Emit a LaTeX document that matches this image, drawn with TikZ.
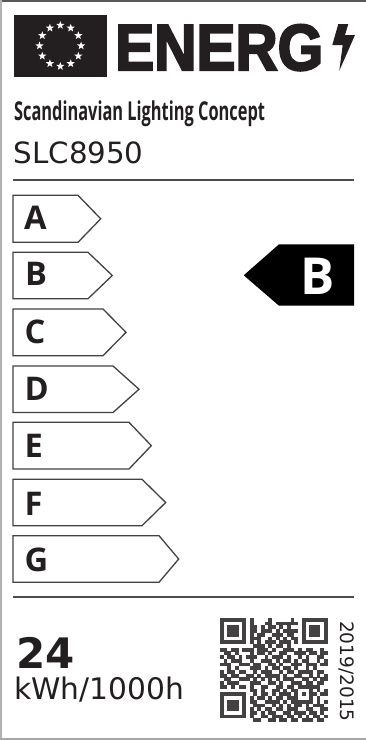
\documentclass[tikz,border=0pt]{standalone}
\usepackage{fontspec}
\usetikzlibrary{shapes.geometric}
\setmainfont{Open Sans}
\newfontfamily\dv{DejaVu Sans}
\newfontfamily\eng[FakeBold=3.5]{Liberation Sans Bold}
\definecolor{ink}{HTML}{231F20}
\newcount\qc
\newcount\qr
\def\qrscan#1{\ifx#1.\else\if#11\relax\fill[ink!85] (220+3.72*\the\qc-0.05,618+3.72*\the\qr-0.05) rectangle ++(3.82,3.82);\fi\advance\qc by 1 \expandafter\qrscan\fi}
\tikzset{
 classbox/.style={draw=ink!85,line width=1.3pt,fill=white,line join=miter},
 rule/.style={draw=ink!80,line width=1.4pt},
 letter/.style={font=\fontsize{32.6}{34}\selectfont\bfseries,text=ink,inner sep=0pt,anchor=base west},
}
\begin{document}
\begin{tikzpicture}[x=1pt,y=-1pt]
\useasboundingbox (0,0) rectangle (366,740);
\fill[white] (0,0) rectangle (366,740);
\fill[black!65] (0,0) rectangle (366,1.6);
\fill[black!30] (0,0) rectangle (1.6,740);
\fill[black!35] (0,738.4) rectangle (366,740);
% flag
\fill[ink] (13.5,15) rectangle (107.2,76.7);
\foreach \a in {0,30,...,330}
  \node[star,star points=5,star point ratio=2.4,fill=white,inner sep=0pt,minimum size=8.5pt] at ({60.3+20.8*sin(\a)},{45.8-20.5*cos(\a)}) {};
% ENERG
\begin{scope}[xscale=.9]
\node[anchor=base west,inner sep=0pt,text=ink,transform shape,font=\eng\fontsize{65}{65}\selectfont] (energ) at (115/.9,70) {ENERG};
\end{scope}
\fill[ink] (338.3,24) -- (348.3,24) -- (345,35) -- (355,35) -- (339.3,70.7) -- (342.7,45) -- (332.3,45) -- cycle;
% name
\begin{scope}[xscale=.63]
\node[anchor=base west,inner sep=0pt,text=ink,transform shape,font=\fontsize{26}{28}\selectfont\bfseries] (brand) at (14/.63,120.5) {Scandinavian Lighting Concept};
\end{scope}
\node[anchor=base west,inner sep=0pt,text=ink,font=\dv\fontsize{29.3}{31}\selectfont] (model) at (13.5,163.4) {SLC8950};
\draw[rule] (13,180) -- (354,180);
\draw[rule] (13,597) -- (354,597);
% classes
\foreach \n/\t/\b/\s/\e/\lx/\d in {A/195.3/242.3/78/100.7/24/10.4,B/252.3/298.7/88/112.3/25/10.4,C/309/355.7/103/126/24.5/11,D/366/412.5/113/139/24.5/11.3,E/422.3/469/129/151.3/24.5/11.7,F/479.3/525.7/142/165.7/24.5/12.5,G/535.7/582.3/159/178.7/24.5/12.5}{
  \draw[classbox] (13,\t) -- (\s,\t) -- (\e,{(\t+\b)/2}) -- (\s,\b) -- (13,\b) -- cycle;
  \node[letter] (cl\n) at (\lx,{(\t+\b)/2+\d}) {\n};
}
% rating
\fill[black] (243.7,275.3) -- (279,244.3) -- (354,244.3) -- (354,305.7) -- (279,305.7) -- cycle;
\node[anchor=base west,inner sep=0pt,text=white,font=\fontsize{51}{53}\selectfont\bfseries] (rate) at (300,294.3) {B};
% consumption
\node[anchor=base west,inner sep=0pt,text=ink,font=\dv\fontsize{42}{44}\selectfont\bfseries] (val) at (16.5,668) {24};
\node[anchor=base west,inner sep=0pt,text=ink,font=\dv\fontsize{29.7}{32}\selectfont] (unit) at (14,699) {kWh/1000h};
\node[rotate=-90,anchor=base west,inner sep=0pt,text=ink,font=\dv\fontsize{18.5}{20}\selectfont] (reg) at (340,621) {2019/2015};
% QR
\qr=0
\foreach \row in {
11111110100001000001001111111,
10000010100011011111101000001,
10111010110101101010001011101,
10111010110111010111101011101,
10111010101100111011001011101,
10000010111001010101101000001,
11111110101011101110101111111,
00000000011101011010000000000,
11011011101110100111010110010,
01101000101101001100111011011,
10110101110010111010010100110,
01011100100111010110101100101,
11100111011001101001110111011,
00101000111010110110100101000,
10110110010111001011011110110,
11011001101011110100110010101,
01100111010101010111001101011,
10111000111001101001110110110,
11010110100110011011011111100,
00000000110100110101100010101,
11111110010110101110101011011,
10000010101101011011100010100,
10111010110011110101111110101,
10111010011100101010110101110,
10111010101011011011100110011,
10000010110101100110111011010,
11111110100110111011010101101,
00000000011001101101101110110,
00000000000000000000000000000}{
  \global\qc=0
  \expandafter\qrscan\row.
  \global\advance\qr by 1
}
\end{tikzpicture}
\end{document}
